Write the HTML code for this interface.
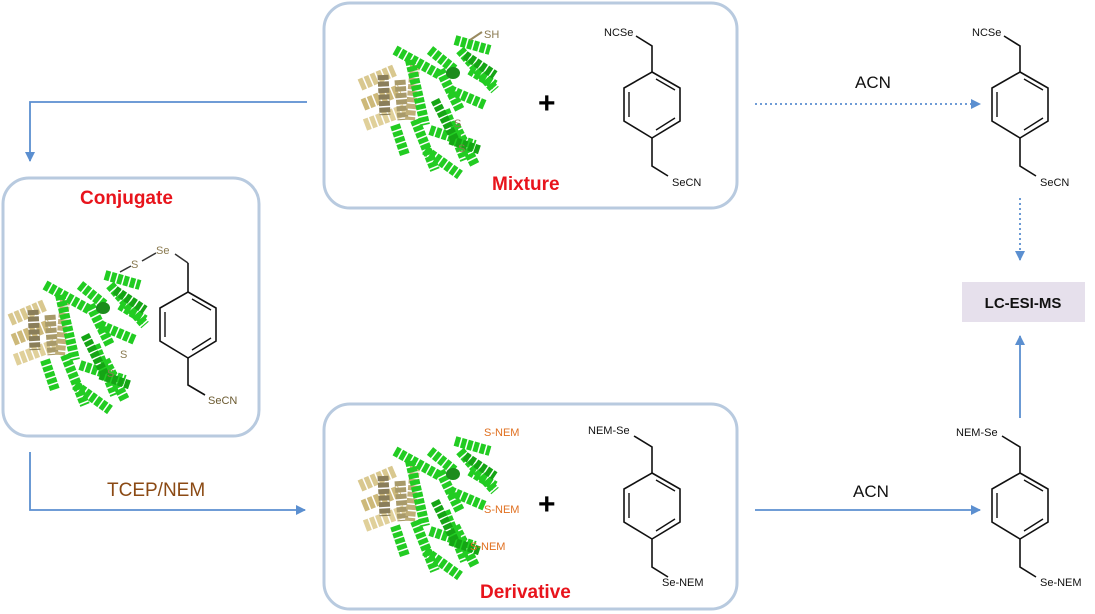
<!DOCTYPE html>
<html><head><style>
html,body{margin:0;padding:0;background:#fff;}
svg{display:block;font-family:"Liberation Sans",Arial,sans-serif;}
</style></head><body>
<svg width="1095" height="614" viewBox="0 0 1095 614" xmlns="http://www.w3.org/2000/svg">
<defs>
<marker id="ah" markerWidth="10" markerHeight="10" refX="9" refY="5" orient="auto" markerUnits="userSpaceOnUse">
<path d="M0,0 L10,5 L0,10 z" fill="#5b8fd0"/></marker>
<g id="prot">
 <g fill="none" stroke-dasharray="5 1.5">
  <path d="M5,55 L40,40" stroke="#d9c88f" stroke-width="12"/>
  <path d="M8,75 L45,60" stroke="#cdb97a" stroke-width="12"/>
  <path d="M10,95 L50,80" stroke="#e0d09a" stroke-width="12"/>
  <path d="M28,45 L30,85" stroke="#8a7e5a" stroke-width="11"/>
  <path d="M45,50 L48,90" stroke="#a89a6a" stroke-width="11"/>
  <path d="M60,35 L55,90" stroke="#bfae78" stroke-width="10"/>
 </g>
 <g fill="none" stroke="#22cc22" stroke-width="10" stroke-dasharray="5 1.5">
  <path d="M40,20 L85,45"/>
  <path d="M55,30 L70,95"/>
  <path d="M75,20 L100,40"/>
  <path d="M85,40 L105,80"/>
  <path d="M100,10 L135,20"/>
  <path d="M105,20 L140,60"/>
  <path d="M95,60 L130,75"/>
  <path d="M90,80 L110,130"/>
  <path d="M60,90 L80,140"/>
  <path d="M75,100 L120,115"/>
  <path d="M100,95 L120,135"/>
  <path d="M40,95 L50,125"/>
  <path d="M115,40 L140,55"/>
  <path d="M70,120 L105,145"/>
 </g>
 <g fill="none" stroke="#15a515" stroke-width="9" stroke-dasharray="5 1.5">
  <path d="M110,25 L140,45"/>
  <path d="M80,70 L100,110"/>
  <path d="M95,110 L125,120"/>
 </g>
 <ellipse cx="98" cy="43" rx="7" ry="6" fill="#1c8c1c"/>
</g>
<g id="ring" fill="none" stroke="#111" stroke-width="1.6">
 <path d="M0,0 L28,16 L28,49 L0,66 L-28,49 L-28,16 Z"/>
 <path d="M4,7 L23,18 M23,46 L4,58 M-23,20 L-23,45" stroke-width="1.4"/>
</g>
</defs>

<rect x="324" y="3" width="413" height="205" rx="26" fill="none" stroke="#b8cadf" stroke-width="3"/>
<rect x="3" y="178" width="256" height="258" rx="26" fill="none" stroke="#b8cadf" stroke-width="3"/>
<rect x="324" y="404" width="413" height="205" rx="26" fill="none" stroke="#b8cadf" stroke-width="3"/>

<use href="#prot" x="355" y="30"/>
<path d="M470,40 L482,32" stroke="#9a8a60" stroke-width="2"/>
<text x="484" y="38" font-size="11" fill="#8a7a50">SH</text>
<text x="454" y="127" font-size="11" fill="#8a7a50">S</text>
<text x="458" y="152" font-size="11" fill="#8a7a50">S</text>
<text x="538" y="113" font-size="30" font-weight="bold">+</text>
<use href="#ring" x="652" y="72"/>
<path d="M652,72 L652,46 L636,36 M652,138 L652,166 L668,176" fill="none" stroke="#111" stroke-width="1.6"/>
<text x="604" y="36" font-size="11" fill="#111">NCSe</text>
<text x="672" y="186" font-size="11" fill="#111">SeCN</text>
<text x="492" y="190" font-size="19" font-weight="bold" fill="#e8141c">Mixture</text>

<text x="80" y="204" font-size="19" font-weight="bold" fill="#e8141c">Conjugate</text>
<use href="#prot" x="5" y="265"/>
<path d="M120,272 L131,266 M142,261 L156,253 M175,254 L188,263" stroke="#333" stroke-width="1.5"/>
<text x="131" y="268" font-size="11" fill="#8a7a50">S</text>
<text x="156" y="254" font-size="11" fill="#8a7a50">Se</text>
<text x="120" y="358" font-size="11" fill="#8a7a50">S</text>
<text x="107" y="377" font-size="11" fill="#8a7a50">S</text>
<use href="#ring" x="188" y="292"/>
<path d="M188,292 L188,263 M188,358 L188,385 L205,395" fill="none" stroke="#111" stroke-width="1.6"/>
<text x="208" y="404" font-size="11" fill="#6b5a30">SeCN</text>

<use href="#prot" x="355" y="431"/>
<text x="484" y="436" font-size="11" fill="#e07020">S-NEM</text>
<text x="484" y="513" font-size="11" fill="#e07020">S-NEM</text>
<text x="470" y="550" font-size="11" fill="#e07020">S-NEM</text>
<text x="538" y="514" font-size="30" font-weight="bold">+</text>
<use href="#ring" x="652" y="473"/>
<path d="M652,473 L652,447 L634,436 M652,539 L652,567 L668,577" fill="none" stroke="#111" stroke-width="1.6"/>
<text x="588" y="434" font-size="11" fill="#111">NEM-Se</text>
<text x="662" y="586" font-size="11" fill="#111">Se-NEM</text>
<text x="480" y="598" font-size="19" font-weight="bold" fill="#e8141c">Derivative</text>

<use href="#ring" x="1020" y="72"/>
<path d="M1020,72 L1020,46 L1004,36 M1020,138 L1020,166 L1036,176" fill="none" stroke="#111" stroke-width="1.6"/>
<text x="972" y="36" font-size="11" fill="#111">NCSe</text>
<text x="1040" y="186" font-size="11" fill="#111">SeCN</text>

<use href="#ring" x="1020" y="473"/>
<path d="M1020,473 L1020,447 L1002,436 M1020,539 L1020,567 L1036,577" fill="none" stroke="#111" stroke-width="1.6"/>
<text x="956" y="436" font-size="11" fill="#111">NEM-Se</text>
<text x="1040" y="586" font-size="11" fill="#111">Se-NEM</text>

<rect x="962" y="282" width="123" height="40" fill="#e6e0ec"/>
<text x="1023" y="308" font-size="15" font-weight="bold" text-anchor="middle" fill="#111">LC-ESI-MS</text>

<g fill="none" stroke="#5b8fd0" stroke-width="1.8">
 <path d="M307,102 L30,102 L30,161" marker-end="url(#ah)"/>
 <path d="M30,452 L30,510 L305,510" marker-end="url(#ah)"/>
 <path d="M755,104 L980,104" stroke-dasharray="2 3" marker-end="url(#ah)"/>
 <path d="M1020,198 L1020,260" stroke-dasharray="2 3" marker-end="url(#ah)"/>
 <path d="M755,510 L980,510" marker-end="url(#ah)"/>
 <path d="M1020,418 L1020,336" marker-end="url(#ah)"/>
</g>
<text x="855" y="88" font-size="17" fill="#111">ACN</text>
<text x="853" y="497" font-size="17" fill="#111">ACN</text>
<text x="107" y="496" font-size="19" fill="#8b4a14">TCEP/NEM</text>
</svg>
</body></html>
